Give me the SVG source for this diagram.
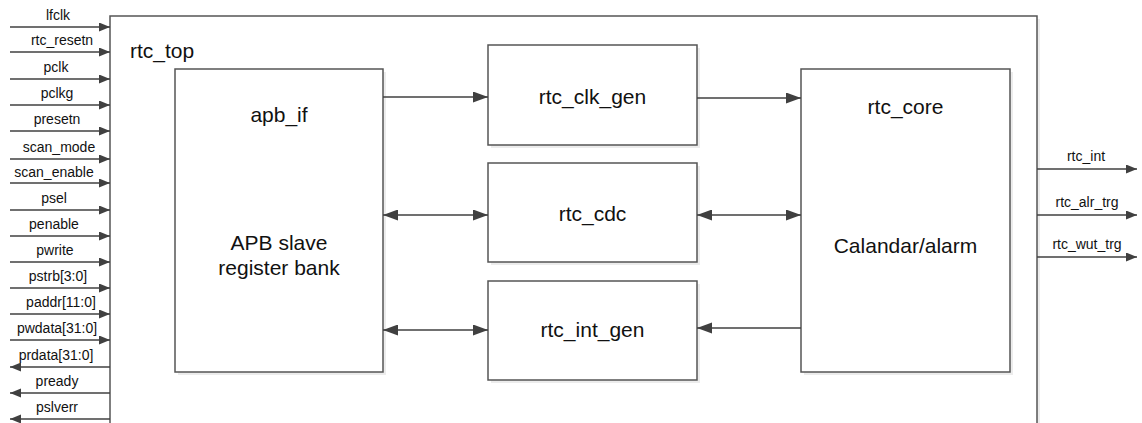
<svg xmlns="http://www.w3.org/2000/svg" width="1142" height="423" viewBox="0 0 1142 423">
  <style>
    .box { fill: #ffffff; stroke: #555555; stroke-width: 1.5; }
    .shadow { fill: #ececec; stroke: none; }
    .wire { stroke: #404040; stroke-width: 1.5; fill: none; }
    .sig { font-family: "Liberation Sans", Arial, sans-serif; font-size: 14px; fill: #111111; text-anchor: middle; }
    .title { font-family: "Liberation Sans", Arial, sans-serif; font-size: 21px; fill: #111111; text-anchor: middle; }
  </style>
  <defs>
    <marker id="head" markerUnits="userSpaceOnUse" markerWidth="16" markerHeight="12" refX="15" refY="5.5" orient="auto">
      <path d="M0,0 L15,5.5 L0,11 Z" fill="#404040"/>
    </marker>
    <marker id="headStart" markerUnits="userSpaceOnUse" markerWidth="16" markerHeight="12" refX="0" refY="5.5" orient="auto">
      <path d="M15,0 L0,5.5 L15,11 Z" fill="#404040"/>
    </marker>
    <marker id="pin" markerUnits="userSpaceOnUse" markerWidth="12" markerHeight="10" refX="11" refY="4.5" orient="auto">
      <path d="M0,0 L11,4.5 L0,9 Z" fill="#404040"/>
    </marker>
  </defs>

  <rect width="1142" height="423" fill="#ffffff"/>

  <!-- top-level wrapper -->
  <g id="rtc_top">
    <rect class="shadow" x="113" y="19" width="927" height="430"/>
    <rect class="box" x="110" y="16" width="927" height="430"/>
    <text x="130" y="58" font-family="Liberation Sans, Arial, sans-serif" font-size="21" fill="#111111">rtc_top</text>
  </g>

  <g id="apb_if">
    <rect class="shadow" x="178" y="72" width="208" height="303"/>
    <rect class="box" x="175" y="69" width="208" height="303"/>
    <text class="title" x="279" y="122">apb_if</text>
    <text class="title" x="279" y="250">APB slave</text>
    <text class="title" x="279" y="275">register bank</text>
  </g>

  <g id="rtc_clk_gen">
    <rect class="shadow" x="491" y="48" width="209" height="100"/>
    <rect class="box" x="488" y="45" width="209" height="100"/>
    <text class="title" x="592.5" y="104">rtc_clk_gen</text>
  </g>

  <g id="rtc_cdc">
    <rect class="shadow" x="491" y="166" width="209" height="99"/>
    <rect class="box" x="488" y="163" width="209" height="99"/>
    <text class="title" x="592.5" y="221">rtc_cdc</text>
  </g>

  <g id="rtc_int_gen">
    <rect class="shadow" x="491" y="284" width="209" height="99"/>
    <rect class="box" x="488" y="281" width="209" height="99"/>
    <text class="title" x="592.5" y="337">rtc_int_gen</text>
  </g>

  <g id="rtc_core">
    <rect class="shadow" x="804" y="72" width="209" height="303"/>
    <rect class="box" x="801" y="69" width="209" height="303"/>
    <text class="title" x="905.5" y="114">rtc_core</text>
    <text class="title" x="905.5" y="253">Calandar/alarm</text>
  </g>

  <!-- internal connections -->
  <g id="connectors">
    <line class="wire" x1="383" y1="97" x2="488" y2="97" marker-end="url(#head)"/>
    <line class="wire" x1="697" y1="98" x2="801" y2="98" marker-end="url(#head)"/>
    <line class="wire" x1="383" y1="215" x2="488" y2="215" marker-start="url(#headStart)" marker-end="url(#head)"/>
    <line class="wire" x1="697" y1="215" x2="801" y2="215" marker-start="url(#headStart)" marker-end="url(#head)"/>
    <line class="wire" x1="383" y1="330" x2="488" y2="330" marker-start="url(#headStart)" marker-end="url(#head)"/>
    <line class="wire" x1="801" y1="328" x2="697" y2="328" marker-end="url(#head)"/>

    <!-- top-level input ports -->
    <line class="wire" x1="10" y1="27" x2="110" y2="27" marker-end="url(#pin)"/>
    <line class="wire" x1="10" y1="52" x2="110" y2="52" marker-end="url(#pin)"/>
    <line class="wire" x1="10" y1="79" x2="110" y2="79" marker-end="url(#pin)"/>
    <line class="wire" x1="10" y1="105" x2="110" y2="105" marker-end="url(#pin)"/>
    <line class="wire" x1="10" y1="131" x2="110" y2="131" marker-end="url(#pin)"/>
    <line class="wire" x1="10" y1="159" x2="110" y2="159" marker-end="url(#pin)"/>
    <line class="wire" x1="10" y1="183" x2="110" y2="183" marker-end="url(#pin)"/>
    <line class="wire" x1="10" y1="210" x2="110" y2="210" marker-end="url(#pin)"/>
    <line class="wire" x1="10" y1="236" x2="110" y2="236" marker-end="url(#pin)"/>
    <line class="wire" x1="10" y1="262" x2="110" y2="262" marker-end="url(#pin)"/>
    <line class="wire" x1="10" y1="288" x2="110" y2="288" marker-end="url(#pin)"/>
    <line class="wire" x1="10" y1="314" x2="110" y2="314" marker-end="url(#pin)"/>
    <line class="wire" x1="10" y1="340" x2="110" y2="340" marker-end="url(#pin)"/>
    <!-- top-level output ports (left) -->
    <line class="wire" x1="110" y1="367" x2="10" y2="367" marker-end="url(#pin)"/>
    <line class="wire" x1="110" y1="393" x2="10" y2="393" marker-end="url(#pin)"/>
    <line class="wire" x1="110" y1="419" x2="10" y2="419" marker-end="url(#pin)"/>
    <!-- top-level output ports (right) -->
    <line class="wire" x1="1037" y1="169" x2="1137" y2="169" marker-end="url(#pin)"/>
    <line class="wire" x1="1037" y1="215" x2="1137" y2="215" marker-end="url(#pin)"/>
    <line class="wire" x1="1037" y1="257" x2="1137" y2="257" marker-end="url(#pin)"/>
  </g>

  <!-- port names -->
  <g id="port_labels">
    <text class="sig" x="58" y="20">lfclk</text>
    <text class="sig" x="62" y="45">rtc_resetn</text>
    <text class="sig" x="56" y="72">pclk</text>
    <text class="sig" x="57" y="98">pclkg</text>
    <text class="sig" x="57" y="124">presetn</text>
    <text class="sig" x="59" y="152">scan_mode</text>
    <text class="sig" x="54" y="177">scan_enable</text>
    <text class="sig" x="54" y="203">psel</text>
    <text class="sig" x="54" y="229">penable</text>
    <text class="sig" x="55" y="255">pwrite</text>
    <text class="sig" x="58" y="281">pstrb[3:0]</text>
    <text class="sig" x="61" y="307">paddr[11:0]</text>
    <text class="sig" x="57" y="333">pwdata[31:0]</text>
    <text class="sig" x="56" y="360">prdata[31:0]</text>
    <text class="sig" x="57" y="386">pready</text>
    <text class="sig" x="57" y="412">pslverr</text>
    <text class="sig" x="1086" y="161">rtc_int</text>
    <text class="sig" x="1087" y="207">rtc_alr_trg</text>
    <text class="sig" x="1087" y="249">rtc_wut_trg</text>
  </g>
</svg>
